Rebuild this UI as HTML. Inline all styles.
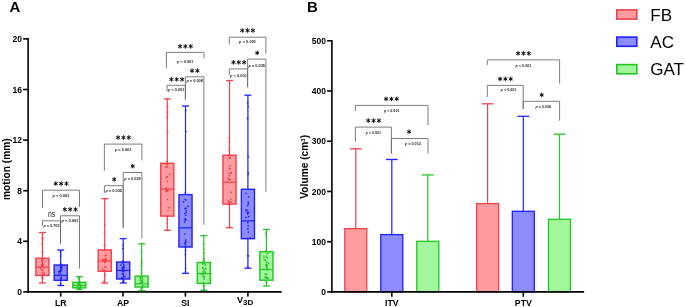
<!DOCTYPE html>
<html><head><meta charset="utf-8"><style>
html,body{margin:0;padding:0;background:#fff;}
svg{display:block;will-change:transform;font-family:"Liberation Sans",sans-serif;}
</style></head><body>
<svg width="685" height="307" viewBox="0 0 685 307">
<rect width="685" height="307" fill="#fff"/>
<line x1="28.10" y1="38.10" x2="28.10" y2="292.70" stroke="#000" stroke-width="1.6"/>
<line x1="23.20" y1="291.90" x2="28.10" y2="291.90" stroke="#000" stroke-width="1.6"/>
<text x="21.90" y="295.00" font-size="8.5" text-anchor="end" font-weight="bold" fill="#000" >0</text>
<line x1="23.20" y1="241.30" x2="28.10" y2="241.30" stroke="#000" stroke-width="1.6"/>
<text x="21.90" y="244.40" font-size="8.5" text-anchor="end" font-weight="bold" fill="#000" >4</text>
<line x1="23.20" y1="190.70" x2="28.10" y2="190.70" stroke="#000" stroke-width="1.6"/>
<text x="21.90" y="193.80" font-size="8.5" text-anchor="end" font-weight="bold" fill="#000" >8</text>
<line x1="23.20" y1="140.10" x2="28.10" y2="140.10" stroke="#000" stroke-width="1.6"/>
<text x="21.90" y="143.20" font-size="8.5" text-anchor="end" font-weight="bold" fill="#000" >12</text>
<line x1="23.20" y1="89.50" x2="28.10" y2="89.50" stroke="#000" stroke-width="1.6"/>
<text x="21.90" y="92.60" font-size="8.5" text-anchor="end" font-weight="bold" fill="#000" >16</text>
<line x1="23.20" y1="38.90" x2="28.10" y2="38.90" stroke="#000" stroke-width="1.6"/>
<text x="21.90" y="42.00" font-size="8.5" text-anchor="end" font-weight="bold" fill="#000" >20</text>
<line x1="27.30" y1="291.90" x2="281.60" y2="291.90" stroke="#000" stroke-width="1.6"/>
<line x1="60.70" y1="291.90" x2="60.70" y2="296.60" stroke="#000" stroke-width="1.6"/>
<text x="60.70" y="305.60" font-size="8.7" text-anchor="middle" font-weight="bold" fill="#000" >LR</text>
<line x1="123.00" y1="291.90" x2="123.00" y2="296.60" stroke="#000" stroke-width="1.6"/>
<text x="123.00" y="305.60" font-size="8.7" text-anchor="middle" font-weight="bold" fill="#000" >AP</text>
<line x1="185.40" y1="291.90" x2="185.40" y2="296.60" stroke="#000" stroke-width="1.6"/>
<text x="185.40" y="305.60" font-size="8.7" text-anchor="middle" font-weight="bold" fill="#000" >SI</text>
<line x1="247.90" y1="291.90" x2="247.90" y2="296.60" stroke="#000" stroke-width="1.6"/>
<text x="240.0" y="302.5" font-size="9.2" font-weight="bold" text-anchor="middle">V</text>
<text x="248.3" y="305.3" font-size="8.1" font-weight="bold" text-anchor="middle">3D</text>
<text transform="translate(9.7,169.1) rotate(-90)" font-size="10.2" font-weight="bold" text-anchor="middle">motion (mm)</text>
<text x="9.40" y="12.10" font-size="15" text-anchor="start" font-weight="bold" fill="#000" >A</text>
<line x1="42.40" y1="232.50" x2="42.40" y2="258.20" stroke="#f0404a" stroke-width="1.2"/>
<line x1="42.40" y1="275.50" x2="42.40" y2="283.00" stroke="#f0404a" stroke-width="1.2"/>
<line x1="38.90" y1="232.50" x2="45.90" y2="232.50" stroke="#f0404a" stroke-width="1.3"/>
<line x1="38.90" y1="283.00" x2="45.90" y2="283.00" stroke="#f0404a" stroke-width="1.3"/>
<rect x="35.85" y="258.20" width="13.10" height="17.30" fill="#ff9ca0" stroke="#f0404a" stroke-width="1.4"/>
<line x1="35.85" y1="267.20" x2="48.95" y2="267.20" stroke="#f0404a" stroke-width="1.2"/>
<circle cx="42.17" cy="260.81" r="0.85" fill="#f0404a"/>
<circle cx="42.08" cy="264.53" r="0.85" fill="#f0404a"/>
<circle cx="43.44" cy="266.98" r="0.85" fill="#f0404a"/>
<circle cx="42.65" cy="259.77" r="0.85" fill="#f0404a"/>
<circle cx="42.91" cy="272.50" r="0.85" fill="#f0404a"/>
<circle cx="42.90" cy="274.60" r="0.85" fill="#f0404a"/>
<circle cx="42.71" cy="265.06" r="0.85" fill="#f0404a"/>
<circle cx="41.97" cy="277.67" r="0.85" fill="#f0404a"/>
<circle cx="42.35" cy="263.54" r="0.85" fill="#f0404a"/>
<circle cx="42.47" cy="237.14" r="0.85" fill="#f0404a"/>
<circle cx="42.06" cy="264.64" r="0.85" fill="#f0404a"/>
<circle cx="42.29" cy="261.76" r="0.85" fill="#f0404a"/>
<circle cx="42.25" cy="243.49" r="0.85" fill="#f0404a"/>
<circle cx="41.85" cy="266.04" r="0.85" fill="#f0404a"/>
<circle cx="42.46" cy="238.77" r="0.85" fill="#f0404a"/>
<circle cx="44.09" cy="273.34" r="0.85" fill="#f0404a"/>
<circle cx="42.78" cy="239.90" r="0.85" fill="#f0404a"/>
<circle cx="42.43" cy="265.43" r="0.85" fill="#f0404a"/>
<circle cx="41.83" cy="258.88" r="0.85" fill="#f0404a"/>
<circle cx="42.46" cy="252.15" r="0.85" fill="#f0404a"/>
<circle cx="42.63" cy="277.85" r="0.85" fill="#f0404a"/>
<circle cx="40.56" cy="268.23" r="0.85" fill="#f0404a"/>
<circle cx="42.60" cy="279.06" r="0.85" fill="#f0404a"/>
<circle cx="42.92" cy="270.34" r="0.85" fill="#f0404a"/>
<circle cx="42.76" cy="275.38" r="0.85" fill="#f0404a"/>
<circle cx="41.66" cy="269.77" r="0.85" fill="#f0404a"/>
<line x1="40.80" y1="264.94" x2="44.00" y2="264.94" stroke="#f0404a" stroke-width="0.9"/>
<line x1="42.40" y1="263.34" x2="42.40" y2="266.54" stroke="#f0404a" stroke-width="0.9"/>
<line x1="60.70" y1="250.00" x2="60.70" y2="265.00" stroke="#1f1fff" stroke-width="1.2"/>
<line x1="60.70" y1="280.30" x2="60.70" y2="285.50" stroke="#1f1fff" stroke-width="1.2"/>
<line x1="57.20" y1="250.00" x2="64.20" y2="250.00" stroke="#1f1fff" stroke-width="1.3"/>
<line x1="57.20" y1="285.50" x2="64.20" y2="285.50" stroke="#1f1fff" stroke-width="1.3"/>
<rect x="54.15" y="265.00" width="13.10" height="15.30" fill="#8c8cff" stroke="#1f1fff" stroke-width="1.4"/>
<line x1="54.15" y1="275.50" x2="67.25" y2="275.50" stroke="#1f1fff" stroke-width="1.2"/>
<circle cx="60.96" cy="267.57" r="0.85" fill="#1f1fff"/>
<circle cx="60.50" cy="251.94" r="0.85" fill="#1f1fff"/>
<circle cx="60.93" cy="278.33" r="0.85" fill="#1f1fff"/>
<circle cx="58.73" cy="271.87" r="0.85" fill="#1f1fff"/>
<circle cx="60.52" cy="262.96" r="0.85" fill="#1f1fff"/>
<circle cx="60.07" cy="270.49" r="0.85" fill="#1f1fff"/>
<circle cx="60.28" cy="285.28" r="0.85" fill="#1f1fff"/>
<circle cx="60.82" cy="268.55" r="0.85" fill="#1f1fff"/>
<circle cx="61.85" cy="269.02" r="0.85" fill="#1f1fff"/>
<circle cx="59.82" cy="271.41" r="0.85" fill="#1f1fff"/>
<circle cx="60.72" cy="283.89" r="0.85" fill="#1f1fff"/>
<circle cx="61.65" cy="275.35" r="0.85" fill="#1f1fff"/>
<circle cx="61.08" cy="278.76" r="0.85" fill="#1f1fff"/>
<circle cx="60.62" cy="255.89" r="0.85" fill="#1f1fff"/>
<circle cx="58.70" cy="274.70" r="0.85" fill="#1f1fff"/>
<circle cx="60.85" cy="266.03" r="0.85" fill="#1f1fff"/>
<circle cx="61.28" cy="265.80" r="0.85" fill="#1f1fff"/>
<circle cx="61.46" cy="267.31" r="0.85" fill="#1f1fff"/>
<circle cx="61.27" cy="278.38" r="0.85" fill="#1f1fff"/>
<circle cx="60.69" cy="267.27" r="0.85" fill="#1f1fff"/>
<circle cx="61.62" cy="266.88" r="0.85" fill="#1f1fff"/>
<circle cx="60.67" cy="264.90" r="0.85" fill="#1f1fff"/>
<circle cx="61.43" cy="266.31" r="0.85" fill="#1f1fff"/>
<circle cx="61.25" cy="277.68" r="0.85" fill="#1f1fff"/>
<circle cx="61.87" cy="265.35" r="0.85" fill="#1f1fff"/>
<circle cx="60.33" cy="273.31" r="0.85" fill="#1f1fff"/>
<line x1="59.10" y1="270.76" x2="62.30" y2="270.76" stroke="#1f1fff" stroke-width="0.9"/>
<line x1="60.70" y1="269.16" x2="60.70" y2="272.36" stroke="#1f1fff" stroke-width="0.9"/>
<line x1="79.30" y1="276.70" x2="79.30" y2="282.30" stroke="#22c522" stroke-width="1.2"/>
<line x1="79.30" y1="287.80" x2="79.30" y2="289.30" stroke="#22c522" stroke-width="1.2"/>
<line x1="75.80" y1="276.70" x2="82.80" y2="276.70" stroke="#22c522" stroke-width="1.3"/>
<line x1="75.80" y1="289.30" x2="82.80" y2="289.30" stroke="#22c522" stroke-width="1.3"/>
<rect x="72.75" y="282.30" width="13.10" height="5.50" fill="#a2f79c" stroke="#22c522" stroke-width="1.4"/>
<line x1="72.75" y1="285.30" x2="85.85" y2="285.30" stroke="#22c522" stroke-width="1.2"/>
<circle cx="80.31" cy="287.68" r="0.85" fill="#22c522"/>
<circle cx="78.13" cy="284.32" r="0.85" fill="#22c522"/>
<circle cx="77.60" cy="286.55" r="0.85" fill="#22c522"/>
<circle cx="78.95" cy="283.53" r="0.85" fill="#22c522"/>
<circle cx="79.58" cy="282.22" r="0.85" fill="#22c522"/>
<circle cx="79.49" cy="281.28" r="0.85" fill="#22c522"/>
<circle cx="79.15" cy="285.15" r="0.85" fill="#22c522"/>
<circle cx="79.49" cy="283.84" r="0.85" fill="#22c522"/>
<circle cx="80.35" cy="286.11" r="0.85" fill="#22c522"/>
<circle cx="79.85" cy="289.28" r="0.85" fill="#22c522"/>
<circle cx="79.01" cy="283.51" r="0.85" fill="#22c522"/>
<circle cx="79.70" cy="283.38" r="0.85" fill="#22c522"/>
<circle cx="79.28" cy="289.06" r="0.85" fill="#22c522"/>
<circle cx="80.64" cy="286.70" r="0.85" fill="#22c522"/>
<circle cx="80.77" cy="285.93" r="0.85" fill="#22c522"/>
<circle cx="79.04" cy="279.38" r="0.85" fill="#22c522"/>
<circle cx="79.54" cy="278.56" r="0.85" fill="#22c522"/>
<circle cx="79.18" cy="288.39" r="0.85" fill="#22c522"/>
<circle cx="78.90" cy="288.89" r="0.85" fill="#22c522"/>
<circle cx="78.36" cy="283.13" r="0.85" fill="#22c522"/>
<circle cx="78.88" cy="289.01" r="0.85" fill="#22c522"/>
<circle cx="79.43" cy="282.19" r="0.85" fill="#22c522"/>
<circle cx="79.42" cy="285.32" r="0.85" fill="#22c522"/>
<circle cx="79.33" cy="288.77" r="0.85" fill="#22c522"/>
<circle cx="79.75" cy="288.45" r="0.85" fill="#22c522"/>
<circle cx="79.10" cy="277.88" r="0.85" fill="#22c522"/>
<line x1="77.70" y1="284.22" x2="80.90" y2="284.22" stroke="#22c522" stroke-width="0.9"/>
<line x1="79.30" y1="282.62" x2="79.30" y2="285.82" stroke="#22c522" stroke-width="0.9"/>
<line x1="104.70" y1="198.70" x2="104.70" y2="249.90" stroke="#f0404a" stroke-width="1.2"/>
<line x1="104.70" y1="271.30" x2="104.70" y2="283.00" stroke="#f0404a" stroke-width="1.2"/>
<line x1="101.20" y1="198.70" x2="108.20" y2="198.70" stroke="#f0404a" stroke-width="1.3"/>
<line x1="101.20" y1="283.00" x2="108.20" y2="283.00" stroke="#f0404a" stroke-width="1.3"/>
<rect x="98.15" y="249.90" width="13.10" height="21.40" fill="#ff9ca0" stroke="#f0404a" stroke-width="1.4"/>
<line x1="98.15" y1="261.10" x2="111.25" y2="261.10" stroke="#f0404a" stroke-width="1.2"/>
<circle cx="104.82" cy="262.45" r="0.85" fill="#f0404a"/>
<circle cx="106.19" cy="258.87" r="0.85" fill="#f0404a"/>
<circle cx="106.31" cy="259.70" r="0.85" fill="#f0404a"/>
<circle cx="102.74" cy="269.25" r="0.85" fill="#f0404a"/>
<circle cx="105.77" cy="261.28" r="0.85" fill="#f0404a"/>
<circle cx="104.11" cy="250.30" r="0.85" fill="#f0404a"/>
<circle cx="104.93" cy="267.00" r="0.85" fill="#f0404a"/>
<circle cx="104.50" cy="260.03" r="0.85" fill="#f0404a"/>
<circle cx="103.44" cy="260.99" r="0.85" fill="#f0404a"/>
<circle cx="105.71" cy="266.68" r="0.85" fill="#f0404a"/>
<circle cx="105.49" cy="255.83" r="0.85" fill="#f0404a"/>
<circle cx="104.75" cy="224.69" r="0.85" fill="#f0404a"/>
<circle cx="104.65" cy="245.42" r="0.85" fill="#f0404a"/>
<circle cx="103.17" cy="260.72" r="0.85" fill="#f0404a"/>
<circle cx="104.58" cy="261.31" r="0.85" fill="#f0404a"/>
<circle cx="104.06" cy="270.05" r="0.85" fill="#f0404a"/>
<circle cx="104.77" cy="274.34" r="0.85" fill="#f0404a"/>
<circle cx="104.26" cy="281.13" r="0.85" fill="#f0404a"/>
<circle cx="102.76" cy="259.36" r="0.85" fill="#f0404a"/>
<circle cx="106.03" cy="255.05" r="0.85" fill="#f0404a"/>
<circle cx="104.42" cy="244.63" r="0.85" fill="#f0404a"/>
<circle cx="104.41" cy="232.51" r="0.85" fill="#f0404a"/>
<circle cx="104.36" cy="282.62" r="0.85" fill="#f0404a"/>
<circle cx="104.68" cy="275.96" r="0.85" fill="#f0404a"/>
<circle cx="104.29" cy="281.04" r="0.85" fill="#f0404a"/>
<circle cx="105.36" cy="260.93" r="0.85" fill="#f0404a"/>
<line x1="103.10" y1="259.96" x2="106.30" y2="259.96" stroke="#f0404a" stroke-width="0.9"/>
<line x1="104.70" y1="258.36" x2="104.70" y2="261.56" stroke="#f0404a" stroke-width="0.9"/>
<line x1="123.20" y1="238.60" x2="123.20" y2="262.00" stroke="#1f1fff" stroke-width="1.2"/>
<line x1="123.20" y1="279.00" x2="123.20" y2="283.00" stroke="#1f1fff" stroke-width="1.2"/>
<line x1="119.70" y1="238.60" x2="126.70" y2="238.60" stroke="#1f1fff" stroke-width="1.3"/>
<line x1="119.70" y1="283.00" x2="126.70" y2="283.00" stroke="#1f1fff" stroke-width="1.3"/>
<rect x="116.65" y="262.00" width="13.10" height="17.00" fill="#8c8cff" stroke="#1f1fff" stroke-width="1.4"/>
<line x1="116.65" y1="270.40" x2="129.75" y2="270.40" stroke="#1f1fff" stroke-width="1.2"/>
<circle cx="123.17" cy="267.41" r="0.85" fill="#1f1fff"/>
<circle cx="123.00" cy="269.49" r="0.85" fill="#1f1fff"/>
<circle cx="122.35" cy="267.64" r="0.85" fill="#1f1fff"/>
<circle cx="122.36" cy="278.75" r="0.85" fill="#1f1fff"/>
<circle cx="122.88" cy="261.34" r="0.85" fill="#1f1fff"/>
<circle cx="123.34" cy="262.67" r="0.85" fill="#1f1fff"/>
<circle cx="122.42" cy="269.18" r="0.85" fill="#1f1fff"/>
<circle cx="122.91" cy="282.28" r="0.85" fill="#1f1fff"/>
<circle cx="121.80" cy="277.63" r="0.85" fill="#1f1fff"/>
<circle cx="122.53" cy="262.98" r="0.85" fill="#1f1fff"/>
<circle cx="122.86" cy="248.55" r="0.85" fill="#1f1fff"/>
<circle cx="123.56" cy="281.54" r="0.85" fill="#1f1fff"/>
<circle cx="125.02" cy="276.56" r="0.85" fill="#1f1fff"/>
<circle cx="124.01" cy="267.77" r="0.85" fill="#1f1fff"/>
<circle cx="123.14" cy="277.75" r="0.85" fill="#1f1fff"/>
<circle cx="123.72" cy="266.05" r="0.85" fill="#1f1fff"/>
<circle cx="123.84" cy="264.74" r="0.85" fill="#1f1fff"/>
<circle cx="123.41" cy="267.19" r="0.85" fill="#1f1fff"/>
<circle cx="123.20" cy="245.39" r="0.85" fill="#1f1fff"/>
<circle cx="123.95" cy="267.90" r="0.85" fill="#1f1fff"/>
<circle cx="123.29" cy="274.46" r="0.85" fill="#1f1fff"/>
<circle cx="120.89" cy="265.22" r="0.85" fill="#1f1fff"/>
<circle cx="123.57" cy="275.92" r="0.85" fill="#1f1fff"/>
<circle cx="123.71" cy="270.42" r="0.85" fill="#1f1fff"/>
<circle cx="122.34" cy="273.69" r="0.85" fill="#1f1fff"/>
<circle cx="123.60" cy="280.37" r="0.85" fill="#1f1fff"/>
<line x1="121.60" y1="271.33" x2="124.80" y2="271.33" stroke="#1f1fff" stroke-width="0.9"/>
<line x1="123.20" y1="269.73" x2="123.20" y2="272.93" stroke="#1f1fff" stroke-width="0.9"/>
<line x1="141.60" y1="243.80" x2="141.60" y2="276.10" stroke="#22c522" stroke-width="1.2"/>
<line x1="141.60" y1="287.00" x2="141.60" y2="290.70" stroke="#22c522" stroke-width="1.2"/>
<line x1="138.10" y1="243.80" x2="145.10" y2="243.80" stroke="#22c522" stroke-width="1.3"/>
<line x1="138.10" y1="290.70" x2="145.10" y2="290.70" stroke="#22c522" stroke-width="1.3"/>
<rect x="135.05" y="276.10" width="13.10" height="10.90" fill="#a2f79c" stroke="#22c522" stroke-width="1.4"/>
<line x1="135.05" y1="283.80" x2="148.15" y2="283.80" stroke="#22c522" stroke-width="1.2"/>
<circle cx="141.41" cy="280.51" r="0.85" fill="#22c522"/>
<circle cx="141.87" cy="276.87" r="0.85" fill="#22c522"/>
<circle cx="141.33" cy="252.06" r="0.85" fill="#22c522"/>
<circle cx="142.62" cy="285.27" r="0.85" fill="#22c522"/>
<circle cx="140.52" cy="278.74" r="0.85" fill="#22c522"/>
<circle cx="142.20" cy="281.11" r="0.85" fill="#22c522"/>
<circle cx="142.51" cy="286.58" r="0.85" fill="#22c522"/>
<circle cx="141.29" cy="289.02" r="0.85" fill="#22c522"/>
<circle cx="141.43" cy="288.15" r="0.85" fill="#22c522"/>
<circle cx="140.43" cy="280.26" r="0.85" fill="#22c522"/>
<circle cx="141.79" cy="281.60" r="0.85" fill="#22c522"/>
<circle cx="142.45" cy="278.98" r="0.85" fill="#22c522"/>
<circle cx="142.14" cy="276.35" r="0.85" fill="#22c522"/>
<circle cx="140.55" cy="278.64" r="0.85" fill="#22c522"/>
<circle cx="141.77" cy="265.04" r="0.85" fill="#22c522"/>
<circle cx="141.39" cy="288.44" r="0.85" fill="#22c522"/>
<circle cx="141.87" cy="287.55" r="0.85" fill="#22c522"/>
<circle cx="140.97" cy="276.58" r="0.85" fill="#22c522"/>
<circle cx="141.70" cy="272.61" r="0.85" fill="#22c522"/>
<circle cx="141.31" cy="270.03" r="0.85" fill="#22c522"/>
<circle cx="142.52" cy="281.60" r="0.85" fill="#22c522"/>
<circle cx="141.91" cy="262.67" r="0.85" fill="#22c522"/>
<circle cx="141.38" cy="266.19" r="0.85" fill="#22c522"/>
<circle cx="140.04" cy="277.55" r="0.85" fill="#22c522"/>
<circle cx="142.26" cy="277.24" r="0.85" fill="#22c522"/>
<circle cx="140.50" cy="282.93" r="0.85" fill="#22c522"/>
<line x1="140.00" y1="282.27" x2="143.20" y2="282.27" stroke="#22c522" stroke-width="0.9"/>
<line x1="141.60" y1="280.67" x2="141.60" y2="283.87" stroke="#22c522" stroke-width="0.9"/>
<line x1="167.30" y1="98.90" x2="167.30" y2="163.30" stroke="#f0404a" stroke-width="1.2"/>
<line x1="167.30" y1="216.10" x2="167.30" y2="230.30" stroke="#f0404a" stroke-width="1.2"/>
<line x1="163.80" y1="98.90" x2="170.80" y2="98.90" stroke="#f0404a" stroke-width="1.3"/>
<line x1="163.80" y1="230.30" x2="170.80" y2="230.30" stroke="#f0404a" stroke-width="1.3"/>
<rect x="160.75" y="163.30" width="13.10" height="52.80" fill="#ff9ca0" stroke="#f0404a" stroke-width="1.4"/>
<line x1="160.75" y1="189.10" x2="173.85" y2="189.10" stroke="#f0404a" stroke-width="1.2"/>
<circle cx="167.79" cy="163.47" r="0.85" fill="#f0404a"/>
<circle cx="165.71" cy="191.56" r="0.85" fill="#f0404a"/>
<circle cx="167.24" cy="166.79" r="0.85" fill="#f0404a"/>
<circle cx="166.54" cy="177.32" r="0.85" fill="#f0404a"/>
<circle cx="167.49" cy="112.12" r="0.85" fill="#f0404a"/>
<circle cx="167.16" cy="223.11" r="0.85" fill="#f0404a"/>
<circle cx="167.45" cy="199.40" r="0.85" fill="#f0404a"/>
<circle cx="165.92" cy="167.39" r="0.85" fill="#f0404a"/>
<circle cx="167.26" cy="176.71" r="0.85" fill="#f0404a"/>
<circle cx="166.45" cy="163.96" r="0.85" fill="#f0404a"/>
<circle cx="166.58" cy="177.49" r="0.85" fill="#f0404a"/>
<circle cx="167.31" cy="117.63" r="0.85" fill="#f0404a"/>
<circle cx="165.95" cy="187.92" r="0.85" fill="#f0404a"/>
<circle cx="168.17" cy="210.49" r="0.85" fill="#f0404a"/>
<circle cx="167.25" cy="216.35" r="0.85" fill="#f0404a"/>
<circle cx="167.26" cy="161.25" r="0.85" fill="#f0404a"/>
<circle cx="169.80" cy="174.38" r="0.85" fill="#f0404a"/>
<circle cx="167.40" cy="219.09" r="0.85" fill="#f0404a"/>
<circle cx="167.81" cy="190.97" r="0.85" fill="#f0404a"/>
<circle cx="167.61" cy="131.66" r="0.85" fill="#f0404a"/>
<circle cx="167.62" cy="113.80" r="0.85" fill="#f0404a"/>
<circle cx="167.14" cy="164.61" r="0.85" fill="#f0404a"/>
<circle cx="166.49" cy="189.26" r="0.85" fill="#f0404a"/>
<circle cx="167.56" cy="181.46" r="0.85" fill="#f0404a"/>
<circle cx="168.97" cy="207.66" r="0.85" fill="#f0404a"/>
<circle cx="167.64" cy="106.63" r="0.85" fill="#f0404a"/>
<line x1="165.70" y1="190.55" x2="168.90" y2="190.55" stroke="#f0404a" stroke-width="0.9"/>
<line x1="167.30" y1="188.95" x2="167.30" y2="192.15" stroke="#f0404a" stroke-width="0.9"/>
<line x1="185.50" y1="106.00" x2="185.50" y2="194.60" stroke="#1f1fff" stroke-width="1.2"/>
<line x1="185.50" y1="247.00" x2="185.50" y2="273.30" stroke="#1f1fff" stroke-width="1.2"/>
<line x1="182.00" y1="106.00" x2="189.00" y2="106.00" stroke="#1f1fff" stroke-width="1.3"/>
<line x1="182.00" y1="273.30" x2="189.00" y2="273.30" stroke="#1f1fff" stroke-width="1.3"/>
<rect x="178.95" y="194.60" width="13.10" height="52.40" fill="#8c8cff" stroke="#1f1fff" stroke-width="1.4"/>
<line x1="178.95" y1="227.80" x2="192.05" y2="227.80" stroke="#1f1fff" stroke-width="1.2"/>
<circle cx="185.35" cy="254.62" r="0.85" fill="#1f1fff"/>
<circle cx="185.52" cy="246.94" r="0.85" fill="#1f1fff"/>
<circle cx="184.78" cy="213.50" r="0.85" fill="#1f1fff"/>
<circle cx="185.85" cy="199.93" r="0.85" fill="#1f1fff"/>
<circle cx="185.85" cy="131.31" r="0.85" fill="#1f1fff"/>
<circle cx="184.85" cy="208.52" r="0.85" fill="#1f1fff"/>
<circle cx="185.46" cy="244.70" r="0.85" fill="#1f1fff"/>
<circle cx="185.66" cy="268.35" r="0.85" fill="#1f1fff"/>
<circle cx="185.56" cy="271.74" r="0.85" fill="#1f1fff"/>
<circle cx="185.69" cy="110.38" r="0.85" fill="#1f1fff"/>
<circle cx="184.99" cy="234.04" r="0.85" fill="#1f1fff"/>
<circle cx="184.85" cy="243.16" r="0.85" fill="#1f1fff"/>
<circle cx="185.03" cy="219.34" r="0.85" fill="#1f1fff"/>
<circle cx="185.31" cy="192.50" r="0.85" fill="#1f1fff"/>
<circle cx="186.20" cy="210.36" r="0.85" fill="#1f1fff"/>
<circle cx="185.79" cy="215.26" r="0.85" fill="#1f1fff"/>
<circle cx="186.02" cy="242.07" r="0.85" fill="#1f1fff"/>
<circle cx="188.00" cy="206.13" r="0.85" fill="#1f1fff"/>
<circle cx="183.63" cy="201.91" r="0.85" fill="#1f1fff"/>
<circle cx="185.26" cy="199.35" r="0.85" fill="#1f1fff"/>
<circle cx="185.87" cy="208.14" r="0.85" fill="#1f1fff"/>
<circle cx="185.50" cy="241.09" r="0.85" fill="#1f1fff"/>
<circle cx="184.47" cy="222.07" r="0.85" fill="#1f1fff"/>
<circle cx="186.25" cy="212.32" r="0.85" fill="#1f1fff"/>
<circle cx="185.50" cy="250.31" r="0.85" fill="#1f1fff"/>
<circle cx="185.81" cy="239.81" r="0.85" fill="#1f1fff"/>
<line x1="183.90" y1="219.66" x2="187.10" y2="219.66" stroke="#1f1fff" stroke-width="0.9"/>
<line x1="185.50" y1="218.06" x2="185.50" y2="221.26" stroke="#1f1fff" stroke-width="0.9"/>
<line x1="203.80" y1="235.60" x2="203.80" y2="262.50" stroke="#22c522" stroke-width="1.2"/>
<line x1="203.80" y1="283.50" x2="203.80" y2="290.30" stroke="#22c522" stroke-width="1.2"/>
<line x1="200.30" y1="235.60" x2="207.30" y2="235.60" stroke="#22c522" stroke-width="1.3"/>
<line x1="200.30" y1="290.30" x2="207.30" y2="290.30" stroke="#22c522" stroke-width="1.3"/>
<rect x="197.25" y="262.50" width="13.10" height="21.00" fill="#a2f79c" stroke="#22c522" stroke-width="1.4"/>
<line x1="197.25" y1="273.60" x2="210.35" y2="273.60" stroke="#22c522" stroke-width="1.2"/>
<circle cx="202.92" cy="267.72" r="0.85" fill="#22c522"/>
<circle cx="204.25" cy="289.27" r="0.85" fill="#22c522"/>
<circle cx="204.44" cy="263.18" r="0.85" fill="#22c522"/>
<circle cx="203.78" cy="259.69" r="0.85" fill="#22c522"/>
<circle cx="202.02" cy="262.50" r="0.85" fill="#22c522"/>
<circle cx="204.18" cy="258.61" r="0.85" fill="#22c522"/>
<circle cx="205.24" cy="264.79" r="0.85" fill="#22c522"/>
<circle cx="202.81" cy="273.47" r="0.85" fill="#22c522"/>
<circle cx="204.01" cy="253.01" r="0.85" fill="#22c522"/>
<circle cx="201.63" cy="274.08" r="0.85" fill="#22c522"/>
<circle cx="204.05" cy="278.93" r="0.85" fill="#22c522"/>
<circle cx="206.03" cy="268.88" r="0.85" fill="#22c522"/>
<circle cx="202.79" cy="267.79" r="0.85" fill="#22c522"/>
<circle cx="202.63" cy="263.98" r="0.85" fill="#22c522"/>
<circle cx="203.26" cy="274.74" r="0.85" fill="#22c522"/>
<circle cx="204.26" cy="262.72" r="0.85" fill="#22c522"/>
<circle cx="205.19" cy="272.17" r="0.85" fill="#22c522"/>
<circle cx="203.48" cy="286.73" r="0.85" fill="#22c522"/>
<circle cx="203.43" cy="282.67" r="0.85" fill="#22c522"/>
<circle cx="203.42" cy="243.87" r="0.85" fill="#22c522"/>
<circle cx="203.12" cy="276.66" r="0.85" fill="#22c522"/>
<circle cx="203.58" cy="260.49" r="0.85" fill="#22c522"/>
<circle cx="204.17" cy="269.60" r="0.85" fill="#22c522"/>
<circle cx="204.37" cy="276.83" r="0.85" fill="#22c522"/>
<circle cx="203.56" cy="249.18" r="0.85" fill="#22c522"/>
<circle cx="204.18" cy="285.62" r="0.85" fill="#22c522"/>
<line x1="202.20" y1="271.92" x2="205.40" y2="271.92" stroke="#22c522" stroke-width="0.9"/>
<line x1="203.80" y1="270.32" x2="203.80" y2="273.52" stroke="#22c522" stroke-width="0.9"/>
<line x1="229.50" y1="80.50" x2="229.50" y2="155.20" stroke="#f0404a" stroke-width="1.2"/>
<line x1="229.50" y1="204.10" x2="229.50" y2="227.70" stroke="#f0404a" stroke-width="1.2"/>
<line x1="226.00" y1="80.50" x2="233.00" y2="80.50" stroke="#f0404a" stroke-width="1.3"/>
<line x1="226.00" y1="227.70" x2="233.00" y2="227.70" stroke="#f0404a" stroke-width="1.3"/>
<rect x="222.95" y="155.20" width="13.10" height="48.90" fill="#ff9ca0" stroke="#f0404a" stroke-width="1.4"/>
<line x1="222.95" y1="182.20" x2="236.05" y2="182.20" stroke="#f0404a" stroke-width="1.2"/>
<circle cx="231.19" cy="192.39" r="0.85" fill="#f0404a"/>
<circle cx="228.86" cy="201.75" r="0.85" fill="#f0404a"/>
<circle cx="229.52" cy="175.59" r="0.85" fill="#f0404a"/>
<circle cx="229.22" cy="151.37" r="0.85" fill="#f0404a"/>
<circle cx="230.05" cy="165.61" r="0.85" fill="#f0404a"/>
<circle cx="229.41" cy="158.14" r="0.85" fill="#f0404a"/>
<circle cx="230.71" cy="199.12" r="0.85" fill="#f0404a"/>
<circle cx="229.30" cy="226.09" r="0.85" fill="#f0404a"/>
<circle cx="228.41" cy="200.96" r="0.85" fill="#f0404a"/>
<circle cx="229.63" cy="82.88" r="0.85" fill="#f0404a"/>
<circle cx="229.20" cy="173.48" r="0.85" fill="#f0404a"/>
<circle cx="230.03" cy="168.88" r="0.85" fill="#f0404a"/>
<circle cx="231.34" cy="201.92" r="0.85" fill="#f0404a"/>
<circle cx="231.31" cy="172.64" r="0.85" fill="#f0404a"/>
<circle cx="229.45" cy="141.90" r="0.85" fill="#f0404a"/>
<circle cx="227.94" cy="178.35" r="0.85" fill="#f0404a"/>
<circle cx="231.11" cy="173.01" r="0.85" fill="#f0404a"/>
<circle cx="229.39" cy="204.81" r="0.85" fill="#f0404a"/>
<circle cx="229.13" cy="137.77" r="0.85" fill="#f0404a"/>
<circle cx="230.18" cy="158.26" r="0.85" fill="#f0404a"/>
<circle cx="229.37" cy="147.62" r="0.85" fill="#f0404a"/>
<circle cx="229.13" cy="202.03" r="0.85" fill="#f0404a"/>
<circle cx="229.32" cy="168.02" r="0.85" fill="#f0404a"/>
<circle cx="228.65" cy="155.38" r="0.85" fill="#f0404a"/>
<circle cx="229.61" cy="148.96" r="0.85" fill="#f0404a"/>
<circle cx="229.18" cy="204.67" r="0.85" fill="#f0404a"/>
<line x1="227.90" y1="179.55" x2="231.10" y2="179.55" stroke="#f0404a" stroke-width="0.9"/>
<line x1="229.50" y1="177.95" x2="229.50" y2="181.15" stroke="#f0404a" stroke-width="0.9"/>
<line x1="247.90" y1="95.20" x2="247.90" y2="189.30" stroke="#1f1fff" stroke-width="1.2"/>
<line x1="247.90" y1="238.70" x2="247.90" y2="268.20" stroke="#1f1fff" stroke-width="1.2"/>
<line x1="244.40" y1="95.20" x2="251.40" y2="95.20" stroke="#1f1fff" stroke-width="1.3"/>
<line x1="244.40" y1="268.20" x2="251.40" y2="268.20" stroke="#1f1fff" stroke-width="1.3"/>
<rect x="241.35" y="189.30" width="13.10" height="49.40" fill="#8c8cff" stroke="#1f1fff" stroke-width="1.4"/>
<line x1="241.35" y1="220.90" x2="254.45" y2="220.90" stroke="#1f1fff" stroke-width="1.2"/>
<circle cx="247.76" cy="266.84" r="0.85" fill="#1f1fff"/>
<circle cx="245.61" cy="210.54" r="0.85" fill="#1f1fff"/>
<circle cx="247.99" cy="228.95" r="0.85" fill="#1f1fff"/>
<circle cx="248.12" cy="172.62" r="0.85" fill="#1f1fff"/>
<circle cx="247.50" cy="205.49" r="0.85" fill="#1f1fff"/>
<circle cx="247.66" cy="102.64" r="0.85" fill="#1f1fff"/>
<circle cx="247.55" cy="118.47" r="0.85" fill="#1f1fff"/>
<circle cx="248.76" cy="216.60" r="0.85" fill="#1f1fff"/>
<circle cx="250.11" cy="237.72" r="0.85" fill="#1f1fff"/>
<circle cx="245.92" cy="193.45" r="0.85" fill="#1f1fff"/>
<circle cx="247.63" cy="213.92" r="0.85" fill="#1f1fff"/>
<circle cx="246.85" cy="209.89" r="0.85" fill="#1f1fff"/>
<circle cx="247.88" cy="222.60" r="0.85" fill="#1f1fff"/>
<circle cx="248.17" cy="106.60" r="0.85" fill="#1f1fff"/>
<circle cx="245.96" cy="217.30" r="0.85" fill="#1f1fff"/>
<circle cx="248.14" cy="225.76" r="0.85" fill="#1f1fff"/>
<circle cx="248.62" cy="196.87" r="0.85" fill="#1f1fff"/>
<circle cx="247.69" cy="255.76" r="0.85" fill="#1f1fff"/>
<circle cx="247.18" cy="238.33" r="0.85" fill="#1f1fff"/>
<circle cx="248.29" cy="156.68" r="0.85" fill="#1f1fff"/>
<circle cx="247.87" cy="212.75" r="0.85" fill="#1f1fff"/>
<circle cx="248.23" cy="174.30" r="0.85" fill="#1f1fff"/>
<circle cx="248.37" cy="203.81" r="0.85" fill="#1f1fff"/>
<circle cx="248.42" cy="255.90" r="0.85" fill="#1f1fff"/>
<circle cx="248.34" cy="232.09" r="0.85" fill="#1f1fff"/>
<circle cx="248.32" cy="202.14" r="0.85" fill="#1f1fff"/>
<line x1="246.30" y1="212.42" x2="249.50" y2="212.42" stroke="#1f1fff" stroke-width="0.9"/>
<line x1="247.90" y1="210.82" x2="247.90" y2="214.02" stroke="#1f1fff" stroke-width="0.9"/>
<line x1="266.40" y1="229.40" x2="266.40" y2="251.70" stroke="#22c522" stroke-width="1.2"/>
<line x1="266.40" y1="280.20" x2="266.40" y2="286.00" stroke="#22c522" stroke-width="1.2"/>
<line x1="262.90" y1="229.40" x2="269.90" y2="229.40" stroke="#22c522" stroke-width="1.3"/>
<line x1="262.90" y1="286.00" x2="269.90" y2="286.00" stroke="#22c522" stroke-width="1.3"/>
<rect x="259.85" y="251.70" width="13.10" height="28.50" fill="#a2f79c" stroke="#22c522" stroke-width="1.4"/>
<line x1="259.85" y1="269.50" x2="272.95" y2="269.50" stroke="#22c522" stroke-width="1.2"/>
<circle cx="264.02" cy="269.37" r="0.85" fill="#22c522"/>
<circle cx="266.83" cy="262.21" r="0.85" fill="#22c522"/>
<circle cx="266.92" cy="268.78" r="0.85" fill="#22c522"/>
<circle cx="267.29" cy="257.50" r="0.85" fill="#22c522"/>
<circle cx="266.25" cy="233.53" r="0.85" fill="#22c522"/>
<circle cx="266.46" cy="274.37" r="0.85" fill="#22c522"/>
<circle cx="267.21" cy="253.50" r="0.85" fill="#22c522"/>
<circle cx="267.00" cy="269.92" r="0.85" fill="#22c522"/>
<circle cx="266.05" cy="256.37" r="0.85" fill="#22c522"/>
<circle cx="265.43" cy="260.47" r="0.85" fill="#22c522"/>
<circle cx="266.48" cy="282.01" r="0.85" fill="#22c522"/>
<circle cx="268.62" cy="263.57" r="0.85" fill="#22c522"/>
<circle cx="263.90" cy="257.32" r="0.85" fill="#22c522"/>
<circle cx="266.00" cy="233.94" r="0.85" fill="#22c522"/>
<circle cx="266.78" cy="282.66" r="0.85" fill="#22c522"/>
<circle cx="265.82" cy="276.86" r="0.85" fill="#22c522"/>
<circle cx="266.54" cy="267.42" r="0.85" fill="#22c522"/>
<circle cx="267.58" cy="277.63" r="0.85" fill="#22c522"/>
<circle cx="267.14" cy="266.08" r="0.85" fill="#22c522"/>
<circle cx="264.14" cy="259.77" r="0.85" fill="#22c522"/>
<circle cx="266.10" cy="265.68" r="0.85" fill="#22c522"/>
<circle cx="266.16" cy="250.96" r="0.85" fill="#22c522"/>
<circle cx="267.53" cy="278.58" r="0.85" fill="#22c522"/>
<circle cx="266.22" cy="278.10" r="0.85" fill="#22c522"/>
<circle cx="265.04" cy="277.47" r="0.85" fill="#22c522"/>
<circle cx="265.12" cy="274.10" r="0.85" fill="#22c522"/>
<line x1="264.80" y1="264.84" x2="268.00" y2="264.84" stroke="#22c522" stroke-width="0.9"/>
<line x1="266.40" y1="263.24" x2="266.40" y2="266.44" stroke="#22c522" stroke-width="0.9"/>
<polyline points="42.50,208.10 42.50,190.20 79.50,190.20 79.50,207.00" fill="none" stroke="#6e6e6e" stroke-width="0.9"/>
<path d="M55.75,181.35L55.75,185.85M53.80,182.47L57.70,184.72M53.80,184.72L57.70,182.47M61.10,181.35L61.10,185.85M59.15,182.47L63.05,184.72M59.15,184.72L63.05,182.47M66.45,181.35L66.45,185.85M64.50,182.47L68.40,184.72M64.50,184.72L68.40,182.47" stroke="#000" stroke-width="0.95" fill="none"/>
<text x="61.00" y="196.50" font-size="4.2" font-weight="bold" text-anchor="middle" fill="#222" textLength="17.0" lengthAdjust="spacingAndGlyphs"><tspan font-style="italic">p</tspan> &lt; 0.001</text>
<polyline points="42.50,225.80 42.50,220.80 60.50,220.80 60.50,244.00" fill="none" stroke="#6e6e6e" stroke-width="0.9"/>
<text x="51.60" y="217.00" font-size="9" text-anchor="middle" fill="#222" textLength="7.3" lengthAdjust="spacingAndGlyphs">ns</text>
<text x="51.50" y="227.20" font-size="4.2" font-weight="bold" text-anchor="middle" fill="#222" textLength="16.0" lengthAdjust="spacingAndGlyphs"><tspan font-style="italic">p</tspan> = 0.705</text>
<polyline points="60.50,244.00 60.50,215.80 79.50,215.80 79.50,268.70" fill="none" stroke="#6e6e6e" stroke-width="0.9"/>
<path d="M64.85,207.15L64.85,211.65M62.90,208.28L66.80,210.53M62.90,210.53L66.80,208.28M70.20,207.15L70.20,211.65M68.25,208.28L72.15,210.53M68.25,210.53L72.15,208.28M75.55,207.15L75.55,211.65M73.60,208.28L77.50,210.53M73.60,210.53L77.50,208.28" stroke="#000" stroke-width="0.95" fill="none"/>
<text x="70.00" y="222.30" font-size="4.2" font-weight="bold" text-anchor="middle" fill="#222" textLength="17.2" lengthAdjust="spacingAndGlyphs"><tspan font-style="italic">p</tspan> &lt; 0.001</text>
<polyline points="104.40,170.80 104.40,144.10 141.90,144.10 141.90,160.50" fill="none" stroke="#6e6e6e" stroke-width="0.9"/>
<path d="M118.05,135.25L118.05,139.75M116.10,136.38L120.00,138.62M116.10,138.62L120.00,136.38M123.40,135.25L123.40,139.75M121.45,136.38L125.35,138.62M121.45,138.62L125.35,136.38M128.75,135.25L128.75,139.75M126.80,136.38L130.70,138.62M126.80,138.62L130.70,136.38" stroke="#000" stroke-width="0.95" fill="none"/>
<text x="123.15" y="151.00" font-size="4.2" font-weight="bold" text-anchor="middle" fill="#222" textLength="16.5" lengthAdjust="spacingAndGlyphs"><tspan font-style="italic">p</tspan> = 0.001</text>
<polyline points="104.40,192.70 104.40,185.70 123.20,185.70 123.20,227.70" fill="none" stroke="#6e6e6e" stroke-width="0.9"/>
<path d="M114.20,177.15L114.20,181.65M112.25,178.28L116.15,180.53M112.25,180.53L116.15,178.28" stroke="#000" stroke-width="0.95" fill="none"/>
<text x="113.80" y="191.50" font-size="4.2" font-weight="bold" text-anchor="middle" fill="#222" textLength="16.5" lengthAdjust="spacingAndGlyphs"><tspan font-style="italic">p</tspan> = 0.035</text>
<polyline points="123.20,227.70 123.20,172.50 141.90,172.50 141.90,238.30" fill="none" stroke="#6e6e6e" stroke-width="0.9"/>
<path d="M132.70,163.95L132.70,168.45M130.75,165.08L134.65,167.33M130.75,167.33L134.65,165.08" stroke="#000" stroke-width="0.95" fill="none"/>
<text x="132.55" y="180.20" font-size="4.2" font-weight="bold" text-anchor="middle" fill="#222" textLength="16.5" lengthAdjust="spacingAndGlyphs"><tspan font-style="italic">p</tspan> = 0.029</text>
<polyline points="166.40,67.90 166.40,52.40 203.90,52.40 203.90,58.10" fill="none" stroke="#6e6e6e" stroke-width="0.9"/>
<path d="M180.05,44.15L180.05,48.65M178.10,45.27L182.00,47.52M178.10,47.52L182.00,45.27M185.40,44.15L185.40,48.65M183.45,45.27L187.35,47.52M183.45,47.52L187.35,45.27M190.75,44.15L190.75,48.65M188.80,45.27L192.70,47.52M188.80,47.52L192.70,45.27" stroke="#000" stroke-width="0.95" fill="none"/>
<text x="185.15" y="63.20" font-size="4.2" font-weight="bold" text-anchor="middle" fill="#222" textLength="16.5" lengthAdjust="spacingAndGlyphs"><tspan font-style="italic">p</tspan> &lt; 0.001</text>
<polyline points="167.00,91.60 167.00,85.30 185.40,85.30 185.40,99.70" fill="none" stroke="#6e6e6e" stroke-width="0.9"/>
<path d="M171.35,77.15L171.35,81.65M169.40,78.28L173.30,80.53M169.40,80.53L173.30,78.28M176.70,77.15L176.70,81.65M174.75,78.28L178.65,80.53M174.75,80.53L178.65,78.28M182.05,77.15L182.05,81.65M180.10,78.28L184.00,80.53M180.10,80.53L184.00,78.28" stroke="#000" stroke-width="0.95" fill="none"/>
<text x="176.20" y="91.20" font-size="4.2" font-weight="bold" text-anchor="middle" fill="#222" textLength="16.2" lengthAdjust="spacingAndGlyphs"><tspan font-style="italic">p</tspan> &lt; 0.001</text>
<polyline points="185.40,99.70 185.40,76.80 203.90,76.80 203.90,224.70" fill="none" stroke="#6e6e6e" stroke-width="0.9"/>
<path d="M192.02,68.45L192.02,72.95M190.08,69.58L193.97,71.83M190.08,71.83L193.97,69.58M197.38,68.45L197.38,72.95M195.43,69.58L199.32,71.83M195.43,71.83L199.32,69.58" stroke="#000" stroke-width="0.95" fill="none"/>
<text x="194.65" y="82.10" font-size="4.2" font-weight="bold" text-anchor="middle" fill="#222" textLength="16.5" lengthAdjust="spacingAndGlyphs"><tspan font-style="italic">p</tspan> = 0.008</text>
<polyline points="229.30,44.50 229.30,37.20 265.90,37.20 265.90,53.80" fill="none" stroke="#6e6e6e" stroke-width="0.9"/>
<path d="M242.25,28.25L242.25,32.75M240.30,29.38L244.20,31.62M240.30,31.62L244.20,29.38M247.60,28.25L247.60,32.75M245.65,29.38L249.55,31.62M245.65,31.62L249.55,29.38M252.95,28.25L252.95,32.75M251.00,29.38L254.90,31.62M251.00,31.62L254.90,29.38" stroke="#000" stroke-width="0.95" fill="none"/>
<text x="247.60" y="43.30" font-size="4.2" font-weight="bold" text-anchor="middle" fill="#222" textLength="17.0" lengthAdjust="spacingAndGlyphs"><tspan font-style="italic">p</tspan> &lt; 0.001</text>
<polyline points="229.30,75.00 229.30,68.90 247.60,68.90 247.60,87.20" fill="none" stroke="#6e6e6e" stroke-width="0.9"/>
<path d="M233.45,60.15L233.45,64.65M231.50,61.27L235.40,63.52M231.50,63.52L235.40,61.27M238.80,60.15L238.80,64.65M236.85,61.27L240.75,63.52M236.85,63.52L240.75,61.27M244.15,60.15L244.15,64.65M242.20,61.27L246.10,63.52M242.20,63.52L246.10,61.27" stroke="#000" stroke-width="0.95" fill="none"/>
<text x="238.45" y="76.70" font-size="4.2" font-weight="bold" text-anchor="middle" fill="#222" textLength="16.8" lengthAdjust="spacingAndGlyphs"><tspan font-style="italic">p</tspan> &lt; 0.001</text>
<polyline points="247.60,87.20 247.60,59.10 265.90,59.10 265.90,191.90" fill="none" stroke="#6e6e6e" stroke-width="0.9"/>
<path d="M257.20,50.65L257.20,55.15M255.25,51.77L259.15,54.02M255.25,54.02L259.15,51.77" stroke="#000" stroke-width="0.95" fill="none"/>
<text x="256.75" y="67.40" font-size="4.2" font-weight="bold" text-anchor="middle" fill="#222" textLength="16.5" lengthAdjust="spacingAndGlyphs"><tspan font-style="italic">p</tspan> = 0.035</text>
<line x1="331.90" y1="40.00" x2="331.90" y2="292.70" stroke="#000" stroke-width="1.6"/>
<line x1="327.10" y1="291.90" x2="331.90" y2="291.90" stroke="#000" stroke-width="1.6"/>
<text x="326.00" y="295.00" font-size="8.5" text-anchor="end" font-weight="bold" fill="#000" >0</text>
<line x1="327.10" y1="241.68" x2="331.90" y2="241.68" stroke="#000" stroke-width="1.6"/>
<text x="326.00" y="244.78" font-size="8.5" text-anchor="end" font-weight="bold" fill="#000" >100</text>
<line x1="327.10" y1="191.46" x2="331.90" y2="191.46" stroke="#000" stroke-width="1.6"/>
<text x="326.00" y="194.56" font-size="8.5" text-anchor="end" font-weight="bold" fill="#000" >200</text>
<line x1="327.10" y1="141.24" x2="331.90" y2="141.24" stroke="#000" stroke-width="1.6"/>
<text x="326.00" y="144.34" font-size="8.5" text-anchor="end" font-weight="bold" fill="#000" >300</text>
<line x1="327.10" y1="91.02" x2="331.90" y2="91.02" stroke="#000" stroke-width="1.6"/>
<text x="326.00" y="94.12" font-size="8.5" text-anchor="end" font-weight="bold" fill="#000" >400</text>
<line x1="327.10" y1="40.80" x2="331.90" y2="40.80" stroke="#000" stroke-width="1.6"/>
<text x="326.00" y="43.90" font-size="8.5" text-anchor="end" font-weight="bold" fill="#000" >500</text>
<text transform="translate(308.0,166.8) rotate(-90)" font-size="10.2" font-weight="bold" text-anchor="middle">Volume (cm<tspan font-size="6" dy="-3.5">3</tspan><tspan dy="3.5">)</tspan></text>
<text x="307.00" y="12.10" font-size="15" text-anchor="start" font-weight="bold" fill="#000" >B</text>
<line x1="355.80" y1="148.80" x2="355.80" y2="228.60" stroke="#f0404a" stroke-width="1.2"/>
<line x1="349.90" y1="148.80" x2="361.70" y2="148.80" stroke="#f0404a" stroke-width="1.3"/>
<rect x="344.80" y="228.60" width="22.00" height="63.30" fill="#ff9ca0" stroke="#f0404a" stroke-width="1.3"/>
<line x1="391.80" y1="159.50" x2="391.80" y2="234.60" stroke="#1f1fff" stroke-width="1.2"/>
<line x1="385.90" y1="159.50" x2="397.70" y2="159.50" stroke="#1f1fff" stroke-width="1.3"/>
<rect x="380.80" y="234.60" width="22.00" height="57.30" fill="#8c8cff" stroke="#1f1fff" stroke-width="1.3"/>
<line x1="427.80" y1="174.90" x2="427.80" y2="241.30" stroke="#22c522" stroke-width="1.2"/>
<line x1="421.90" y1="174.90" x2="433.70" y2="174.90" stroke="#22c522" stroke-width="1.3"/>
<rect x="416.80" y="241.30" width="22.00" height="50.60" fill="#a2f79c" stroke="#22c522" stroke-width="1.3"/>
<line x1="487.60" y1="103.80" x2="487.60" y2="203.60" stroke="#f0404a" stroke-width="1.2"/>
<line x1="481.70" y1="103.80" x2="493.50" y2="103.80" stroke="#f0404a" stroke-width="1.3"/>
<rect x="476.60" y="203.60" width="22.00" height="88.30" fill="#ff9ca0" stroke="#f0404a" stroke-width="1.3"/>
<line x1="523.30" y1="116.30" x2="523.30" y2="211.30" stroke="#1f1fff" stroke-width="1.2"/>
<line x1="517.40" y1="116.30" x2="529.20" y2="116.30" stroke="#1f1fff" stroke-width="1.3"/>
<rect x="512.30" y="211.30" width="22.00" height="80.60" fill="#8c8cff" stroke="#1f1fff" stroke-width="1.3"/>
<line x1="559.50" y1="134.20" x2="559.50" y2="219.30" stroke="#22c522" stroke-width="1.2"/>
<line x1="553.60" y1="134.20" x2="565.40" y2="134.20" stroke="#22c522" stroke-width="1.3"/>
<rect x="548.50" y="219.30" width="22.00" height="72.60" fill="#a2f79c" stroke="#22c522" stroke-width="1.3"/>
<line x1="331.10" y1="291.90" x2="584.10" y2="291.90" stroke="#000" stroke-width="1.6"/>
<line x1="391.80" y1="291.90" x2="391.80" y2="296.70" stroke="#000" stroke-width="1.6"/>
<text x="391.80" y="305.80" font-size="8.7" text-anchor="middle" font-weight="bold" fill="#000" >ITV</text>
<line x1="523.30" y1="291.90" x2="523.30" y2="296.70" stroke="#000" stroke-width="1.6"/>
<text x="523.30" y="305.80" font-size="8.7" text-anchor="middle" font-weight="bold" fill="#000" >PTV</text>
<polyline points="355.40,111.00 355.40,105.40 428.00,105.40 428.00,125.30" fill="none" stroke="#6e6e6e" stroke-width="0.9"/>
<path d="M386.05,96.65L386.05,101.15M384.10,97.78L388.00,100.03M384.10,100.03L388.00,97.78M391.40,96.65L391.40,101.15M389.45,97.78L393.35,100.03M389.45,100.03L393.35,97.78M396.75,96.65L396.75,101.15M394.80,97.78L398.70,100.03M394.80,100.03L398.70,97.78" stroke="#000" stroke-width="0.95" fill="none"/>
<text x="391.70" y="111.80" font-size="4.2" font-weight="bold" text-anchor="middle" fill="#222" textLength="15.5" lengthAdjust="spacingAndGlyphs"><tspan font-style="italic">p</tspan> &lt; 0.001</text>
<polyline points="355.40,141.70 355.40,127.10 391.40,127.10 391.40,153.50" fill="none" stroke="#6e6e6e" stroke-width="0.9"/>
<path d="M368.25,118.35L368.25,122.85M366.30,119.48L370.20,121.73M366.30,121.73L370.20,119.48M373.60,118.35L373.60,122.85M371.65,119.48L375.55,121.73M371.65,121.73L375.55,119.48M378.95,118.35L378.95,122.85M377.00,119.48L380.90,121.73M377.00,121.73L380.90,119.48" stroke="#000" stroke-width="0.95" fill="none"/>
<text x="373.40" y="133.50" font-size="4.2" font-weight="bold" text-anchor="middle" fill="#222" textLength="15.2" lengthAdjust="spacingAndGlyphs"><tspan font-style="italic">p</tspan> &lt; 0.001</text>
<polyline points="391.40,153.50 391.40,138.50 428.00,138.50 428.00,153.50" fill="none" stroke="#6e6e6e" stroke-width="0.9"/>
<path d="M409.10,129.45L409.10,133.95M407.15,130.58L411.05,132.83M407.15,132.83L411.05,130.58" stroke="#000" stroke-width="0.95" fill="none"/>
<text x="412.90" y="144.80" font-size="4.2" font-weight="bold" text-anchor="middle" fill="#222" textLength="15.8" lengthAdjust="spacingAndGlyphs"><tspan font-style="italic">p</tspan> = 0.012</text>
<polyline points="487.30,65.10 487.30,59.90 559.60,59.90 559.60,83.60" fill="none" stroke="#6e6e6e" stroke-width="0.9"/>
<path d="M518.05,51.15L518.05,55.65M516.10,52.27L520.00,54.52M516.10,54.52L520.00,52.27M523.40,51.15L523.40,55.65M521.45,52.27L525.35,54.52M521.45,54.52L525.35,52.27M528.75,51.15L528.75,55.65M526.80,52.27L530.70,54.52M526.80,54.52L530.70,52.27" stroke="#000" stroke-width="0.95" fill="none"/>
<text x="523.45" y="66.80" font-size="4.2" font-weight="bold" text-anchor="middle" fill="#222" textLength="15.8" lengthAdjust="spacingAndGlyphs"><tspan font-style="italic">p</tspan> &lt; 0.001</text>
<polyline points="487.30,97.20 487.30,85.40 523.20,85.40 523.20,108.90" fill="none" stroke="#6e6e6e" stroke-width="0.9"/>
<path d="M500.05,76.65L500.05,81.15M498.10,77.78L502.00,80.03M498.10,80.03L502.00,77.78M505.40,76.65L505.40,81.15M503.45,77.78L507.35,80.03M503.45,80.03L507.35,77.78M510.75,76.65L510.75,81.15M508.80,77.78L512.70,80.03M508.80,80.03L512.70,77.78" stroke="#000" stroke-width="0.95" fill="none"/>
<text x="508.60" y="91.00" font-size="4.2" font-weight="bold" text-anchor="middle" fill="#222" textLength="15.5" lengthAdjust="spacingAndGlyphs"><tspan font-style="italic">p</tspan> &lt; 0.001</text>
<polyline points="523.20,108.90 523.20,101.30 559.60,101.30 559.60,120.70" fill="none" stroke="#6e6e6e" stroke-width="0.9"/>
<path d="M541.70,92.65L541.70,97.15M539.75,93.78L543.65,96.03M539.75,96.03L543.65,93.78" stroke="#000" stroke-width="0.95" fill="none"/>
<text x="543.20" y="107.80" font-size="4.2" font-weight="bold" text-anchor="middle" fill="#222" textLength="15.5" lengthAdjust="spacingAndGlyphs"><tspan font-style="italic">p</tspan> = 0.026</text>
<rect x="616.8" y="9.90" width="20.0" height="9.2" fill="#ff9ca0" stroke="#f0404a" stroke-width="1.6"/>
<text x="650.3" y="20.50" font-size="17" fill="#000">FB</text>
<rect x="616.8" y="37.10" width="20.0" height="9.2" fill="#8c8cff" stroke="#1f1fff" stroke-width="1.6"/>
<text x="650.3" y="47.90" font-size="17" fill="#000">AC</text>
<rect x="616.8" y="64.60" width="20.0" height="9.2" fill="#a2f79c" stroke="#22c522" stroke-width="1.6"/>
<text x="650.3" y="75.40" font-size="17" fill="#000">GAT</text>
</svg>
</body></html>
